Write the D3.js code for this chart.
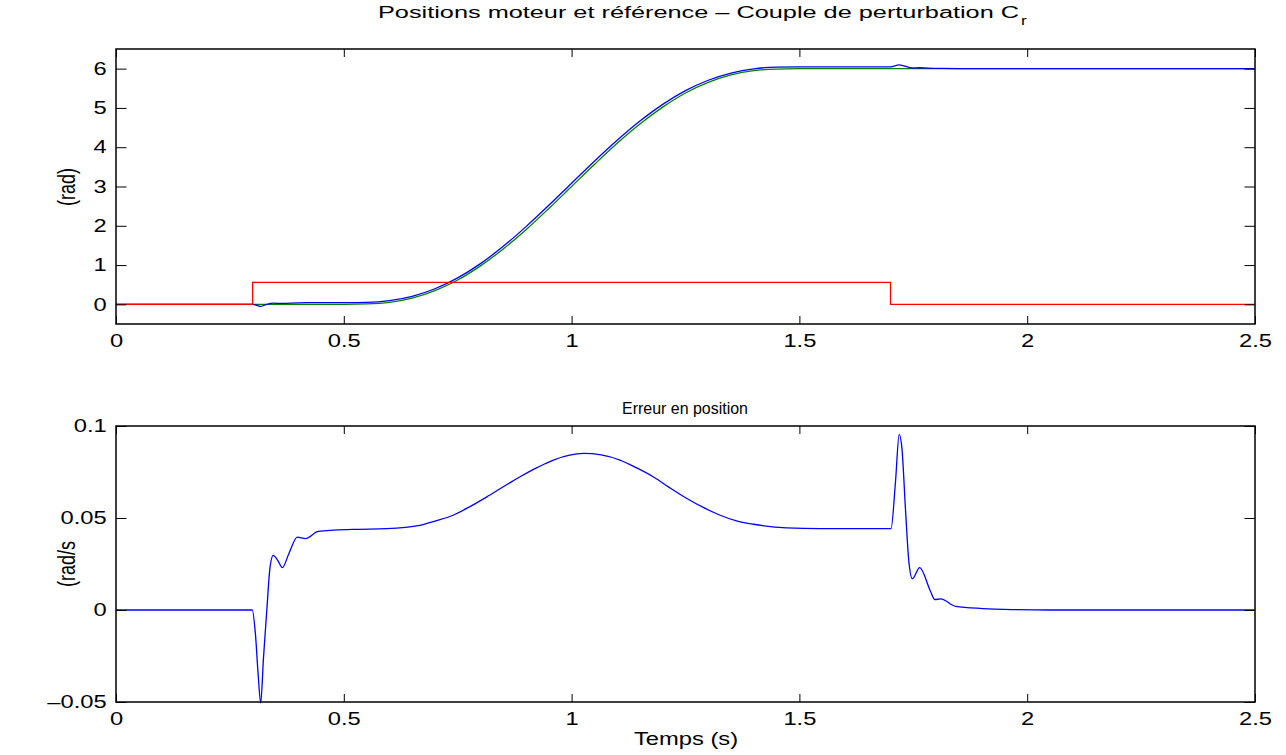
<!DOCTYPE html>
<html lang="en">
<head>
    <title>Positions moteur et référence</title>
    <script src='https://d3js.org/d3.v7.min.js'></script>
    <style>
        body { margin: 0; background: #fff; }
        text { font-family: "Liberation Sans", Arial, Helvetica, sans-serif; fill: #000; }
    </style>
</head>
<body>
    <script>
        // time axis ticks
        const xTicks = [0, 0.5, 1, 1.5, 2, 2.5];

        // reference position (green)
        const refT = [0, 0.5, 0.55, 0.6, 0.65, 0.7, 0.75, 0.8, 0.85, 0.9, 0.95, 1.0, 1.05, 1.1, 1.15, 1.2, 1.25, 1.3, 1.35, 1.4, 1.45, 1.5, 2.5];
        const refV = [0, 0, 0.01, 0.05, 0.16, 0.35, 0.62, 0.98, 1.41, 1.9, 2.44, 3.0, 3.56, 4.1, 4.59, 5.02, 5.38, 5.65, 5.84, 5.95, 5.99, 6.0, 6.0];

        // motor position (blue)
        const motT = [0, 0.3, 0.3176, 0.331, 0.345, 0.365, 0.4, 0.45, 0.5, 0.55, 0.6, 0.65, 0.7, 0.75, 0.8, 0.85, 0.9, 0.95, 1.0, 1.05, 1.1, 1.15, 1.2, 1.25, 1.3, 1.35, 1.4, 1.45, 1.5, 1.7, 1.719, 1.748, 1.764, 1.8, 1.85, 1.9, 2.0, 2.5];
        const motV = [0, 0, -0.05, 0.0, 0.03, 0.023, 0.04, 0.043, 0.044, 0.051, 0.095, 0.206, 0.397, 0.674, 1.037, 1.477, 1.979, 2.521, 3.084, 3.644, 4.177, 4.666, 5.091, 5.44, 5.705, 5.888, 5.996, 6.038, 6.044, 6.044, 6.096, 6.017, 6.023, 6.006, 6.002, 6.001, 6.0, 6.0];

        // disturbance torque (red, step)
        const crT = [0, 0.3, 1.7, 2.5];
        const crV = [0, 0.56, 0, 0];

        // position error (bottom plot)
        const errT = [0, 0.299, 0.306, 0.312, 0.3176, 0.3237, 0.331, 0.338, 0.345, 0.355, 0.365, 0.38, 0.398, 0.416, 0.444, 0.52, 0.594, 0.667, 0.7, 0.74, 0.777, 0.814, 0.85, 0.887, 0.925, 0.96, 1.026, 1.065, 1.106, 1.143, 1.179, 1.215, 1.253, 1.29, 1.326, 1.362, 1.399, 1.472, 1.545, 1.701, 1.711, 1.719, 1.725, 1.733, 1.74, 1.748, 1.764, 1.787, 1.797, 1.81, 1.843, 1.902, 1.976, 2.05, 2.5];
        const errV = [0, 0, -0.013, -0.035, -0.0505, -0.026, 0.0, 0.023, 0.0297, 0.027, 0.023, 0.031, 0.0396, 0.0388, 0.0427, 0.0438, 0.0442, 0.046, 0.0483, 0.0515, 0.0562, 0.0615, 0.067, 0.0724, 0.0775, 0.0815, 0.0851, 0.0843, 0.0815, 0.0772, 0.0724, 0.0665, 0.0606, 0.0556, 0.0515, 0.0484, 0.0466, 0.0446, 0.0442, 0.0442, 0.07, 0.0955, 0.088, 0.054, 0.027, 0.017, 0.023, 0.0106, 0.0057, 0.006, 0.002, 0.0008, 0.0002, 0, 0];

        const topYTicks = [0, 1, 2, 3, 4, 5, 6];
        const botYTicks = [-0.05, 0, 0.05, 0.1];

        const width = 1286, height = 755;
        const SX = 1.32; // text in the picture is stretched horizontally

        const svg = d3.select("body").append("svg")
            .attr("width", width)
            .attr("height", height);

        const x = d3.scaleLinear().domain([0, 2.5]).range([116, 1255]);
        const yTop = d3.scaleLinear().domain([-0.5, 6.5]).range([324, 49]);
        const yBot = d3.scaleLinear().domain([-0.05, 0.1]).range([702, 426]);

        function zip(t, v) { return t.map((d, i) => ({t: d, v: v[i]})); }

        function panel(y, yTicks, fmt) {
            const r = y.range();
            const top = r[1], bot = r[0];

            // bottom axis with inward ticks
            const bx = svg.append("g")
                .attr("transform", "translate(0," + bot + ")")
                .call(d3.axisBottom(x).tickValues(xTicks).tickSizeInner(-8).tickSizeOuter(0).tickPadding(10).tickFormat(d3.format("")));
            // top mirror ticks
            const tx = svg.append("g")
                .attr("transform", "translate(0," + top + ")")
                .call(d3.axisTop(x).tickValues(xTicks).tickSizeInner(-8).tickSizeOuter(0).tickFormat(""));
            // left axis
            const ly = svg.append("g")
                .attr("transform", "translate(116,0)")
                .call(d3.axisLeft(y).tickValues(yTicks).tickSizeInner(-10.5).tickSizeOuter(0).tickPadding(7).tickFormat(fmt));
            // right mirror ticks
            const ry = svg.append("g")
                .attr("transform", "translate(1255,0)")
                .call(d3.axisRight(y).tickValues(yTicks).tickSizeInner(-10.5).tickSizeOuter(0).tickFormat(""));

            [bx, tx, ly, ry].forEach(a => {
                a.select(".domain").remove();
                a.selectAll("line").attr("stroke", "#000").attr("stroke-width", 1);
                a.selectAll("text").attr("font-size", 18).attr("fill", "#000")
                    .attr("font-family", '"Liberation Sans", Arial, sans-serif')
                    .attr("transform", "scale(" + SX + ",1)");
            });

            // box
            svg.append("rect")
                .attr("x", 116).attr("y", top)
                .attr("width", 1255 - 116).attr("height", bot - top)
                .attr("fill", "none").attr("stroke", "#000").attr("stroke-width", 1.5);
        }

        function series(y, t, v, color, curve) {
            svg.append("path")
                .datum(zip(t, v))
                .attr("fill", "none")
                .attr("stroke", color)
                .attr("stroke-width", 1.3)
                .attr("d", d3.line().x(d => x(d.t)).y(d => y(d.v)).curve(curve));
        }

        const fmtTop = d3.format("d");
        const fmtBot = d => d < 0 ? "\u2013" + Math.abs(d) : String(d);

        // top plot
        series(yTop, refT, refV, "#008000", d3.curveMonotoneX);
        series(yTop, motT, motV, "#0000ff", d3.curveMonotoneX);
        series(yTop, crT, crV, "#ff0000", d3.curveStepAfter);
        panel(yTop, topYTicks, fmtTop);

        // bottom plot
        series(yBot, errT, errV, "#0000ff", d3.curveMonotoneX);
        panel(yBot, botYTicks, fmtBot);

        // labels
        function label(txt, px, py, size, rot) {
            return svg.append("text")
                .attr("transform", "translate(" + px + "," + py + ") scale(" + SX + ",1)" + (rot ? " rotate(-90)" : ""))
                .attr("text-anchor", "middle")
                .attr("font-size", size)
                .text(txt);
        }

        // titles fitted to their widths in the picture
        function title(txt, x0, x1, py, size) {
            return svg.append("text")
                .attr("x", x0).attr("y", py)
                .attr("font-size", size)
                .attr("textLength", x1 - x0)
                .attr("lengthAdjust", "spacingAndGlyphs")
                .text(txt);
        }

        title("Positions moteur et référence \u2013 Couple de perturbation C", 378, 1019, 18, 16);
        svg.append("text").attr("x", 1021).attr("y", 25).attr("font-size", 13)
            .attr("transform", "translate(1021,25) scale(" + SX + ",1) translate(-1021,-25)")
            .text("r");

        title("Erreur en position", 622, 748, 414, 16);
        label("Temps (s)", 686, 745, 18);
        label("(rad)", 75, 187, 18, true);
        label("(rad/s", 75, 564, 18, true);
    </script>
</body>
</html>
